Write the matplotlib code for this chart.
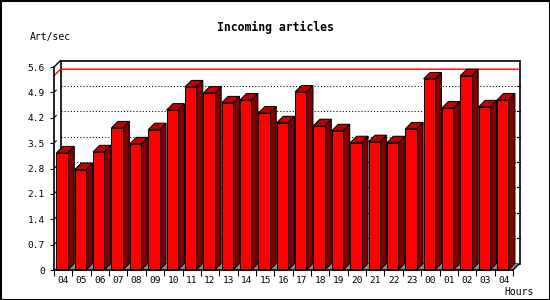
import numpy as np
import matplotlib
matplotlib.use("Agg")
import matplotlib.pyplot as plt
from matplotlib.patches import Polygon, Rectangle

hours = ['04','05','06','07','08','09','10','11','12','13','14','15','16',
         '17','18','19','20','21','22','23','00','01','02','03','04']
art_sec = [3.23, 2.77, 3.26, 3.92, 3.48, 3.87, 4.41, 5.05, 4.88, 4.61, 4.69, 4.33, 4.06,
           4.91, 3.98, 3.84, 3.51, 3.54, 3.51, 3.89, 5.27, 4.47, 5.36, 4.50, 4.69]
yticks = [0, 0.7, 1.4, 2.1, 2.8, 3.5, 4.2, 4.9, 5.6]
ymax = 5.6

font = 'DejaVu Sans Mono'
W, H = 550, 300
fig = plt.figure(figsize=(W/100, H/100), dpi=100)
fig.patch.set_facecolor('white')

# front plane of the plot, in pixels
left, right, top, bottom = 54, 513, 67, 270
ax = fig.add_axes([left/W, (H-bottom)/H, (right-left)/W, (bottom-top)/H])
n = len(hours)
ax.set_xlim(0, n)
ax.set_ylim(0, ymax)
ax.set_facecolor('none')

depth = 6.5  # px
dx = depth / (right-left) * n
dy = depth / (bottom-top) * ymax
lw = 0.75

# back wall
ax.add_patch(Rectangle((dx, dy), n, ymax, facecolor='white', edgecolor='black',
                       lw=1.2, clip_on=False, zorder=1))
for t in yticks[1:-1]:
    ax.plot([dx, n+dx], [t+dy, t+dy], color='black', lw=lw, ls=(0, (1, 2)),
            clip_on=False, zorder=2)
    ax.plot([0, dx*0.35], [t, t+dy*0.35], color='black', lw=lw, clip_on=False, zorder=2)
    ax.plot([n+dx-0.12, n+dx], [t+dy, t+dy], color='black', lw=lw, clip_on=False, zorder=2)

# max line
vmax = max(art_sec)
ax.plot([0, dx, n+dx], [vmax, vmax+dy, vmax+dy], color='red', lw=1.0,
        clip_on=False, zorder=3)

# floor and side edges
ax.add_patch(Polygon([(0, 0), (n, 0), (n+dx, dy), (dx, dy)], closed=True,
                     facecolor='#8c8c8c', edgecolor='none', clip_on=False, zorder=2))
ax.plot([0, dx], [ymax, ymax+dy], color='black', lw=1.0, clip_on=False, zorder=3)
ax.plot([n, n+dx], [0, dy], color='black', lw=1.0, clip_on=False, zorder=3)

# bars
gap, w = 0.13, 0.62
for i, v in enumerate(art_sec):
    x0 = i + gap
    x1 = x0 + w
    z = 4 + i*0.01
    ax.add_patch(Polygon([(x1, 0), (x1+dx, dy), (x1+dx, v+dy), (x1, v)], closed=True,
                         facecolor='#800000', edgecolor='black', lw=lw, clip_on=False, zorder=z))
    ax.add_patch(Polygon([(x0, v), (x1, v), (x1+dx, v+dy), (x0+dx, v+dy)], closed=True,
                         facecolor='#c00000', edgecolor='black', lw=lw, clip_on=False, zorder=z))
    ax.add_patch(Rectangle((x0, 0), w, v, facecolor='#ff0000', edgecolor='black',
                           lw=lw, clip_on=False, zorder=z))

# axes, ticks
for s in ['top', 'right']:
    ax.spines[s].set_visible(False)
for s in ['left', 'bottom']:
    ax.spines[s].set_linewidth(1.2)
    ax.spines[s].set_zorder(6)
ax.set_yticks(yticks)
ax.set_yticklabels(['0' if t == 0 else '%.1f' % t for t in yticks])
ax.tick_params(axis='y', direction='out', length=3, width=lw, pad=3.5,
               labelsize=6.8)
ax.set_xticks(np.arange(n) + 0.5)
ax.set_xticklabels(hours)
ax.set_xticks(np.arange(n+1), minor=True)
ax.tick_params(axis='x', which='major', length=0, pad=4.5, labelsize=6.8)
ax.tick_params(axis='x', which='minor', direction='out', length=4.5, width=lw)
for lab in ax.get_xticklabels() + ax.get_yticklabels():
    lab.set_family(font)

fig.text(275/W, 1-27/H, 'Incoming articles', ha='center', va='center',
         family=font, fontsize=8.3, fontweight='bold')
fig.text(30/W, 1-37/H, 'Art/sec', ha='left', va='center', family=font, fontsize=7)
fig.text(534/W, 1-292/H, 'Hours', ha='right', va='center', family=font, fontsize=7)

fig.patches.append(Rectangle((0, 0), 1, 1, transform=fig.transFigure, fill=False,
                             edgecolor='black', lw=2.2))

fig.savefig('out.png', dpi=100)
